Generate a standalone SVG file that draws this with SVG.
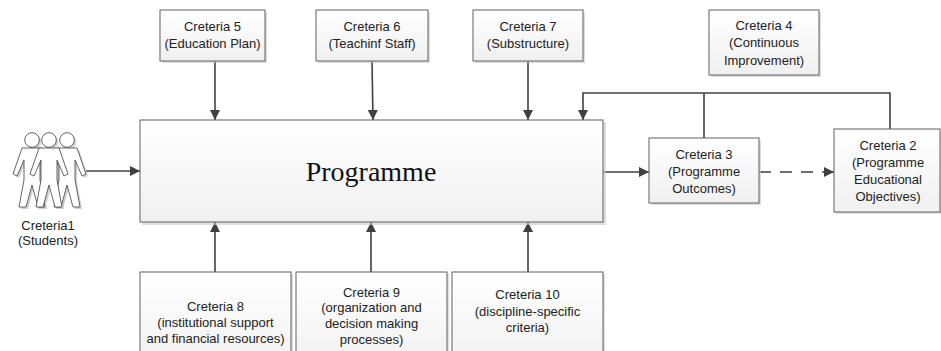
<svg xmlns="http://www.w3.org/2000/svg" width="941" height="351" viewBox="0 0 941 351">
<defs>
<linearGradient id="g" x1="0" y1="0" x2="0" y2="1"><stop offset="0" stop-color="#ffffff"/><stop offset="1" stop-color="#f0f0f0"/></linearGradient>
<marker id="ah" viewBox="0 0 10 10" refX="10" refY="5" markerWidth="10" markerHeight="10" markerUnits="userSpaceOnUse" orient="auto"><path d="M0,0 L10,5 L0,10 Z" fill="#404040"/></marker>
</defs>
<style>
.box{fill:url(#g);stroke:#606060;stroke-width:1}
.sh{fill:#c8c8c8;opacity:0.6}
.t{font-family:"Liberation Sans",Arial,sans-serif;font-size:13px;fill:#222;text-anchor:middle}
.c{fill:none;stroke:#404040;stroke-width:1.6}
.p{fill:#fff;stroke:#555;stroke-width:0.9}
.ps{fill:#d0d0d0}
</style>
<rect width="941" height="351" fill="#fff"/>

<g id="connectors">
<path class="c" d="M215,61 V120" marker-end="url(#ah)"/>
<path class="c" d="M372,61 L373,120" marker-end="url(#ah)"/>
<path class="c" d="M528,61 V120" marker-end="url(#ah)"/>
<path class="c" d="M890,129 V93 H583 V120" marker-end="url(#ah)"/>
<path class="c" d="M704,138 V93"/>
<path class="c" d="M86,171 H140" marker-end="url(#ah)"/>
<path class="c" d="M603,172 H649" marker-end="url(#ah)"/>
<path class="c" d="M759,172 H834" stroke-dasharray="12,9" marker-end="url(#ah)"/>
<path class="c" d="M215,272 V222" marker-end="url(#ah)"/>
<path class="c" d="M371,272 V222" marker-end="url(#ah)"/>
<path class="c" d="M528,272 V222" marker-end="url(#ah)"/>
</g>

<g id="programme">
<rect class="sh" x="142" y="122" width="464" height="103"/>
<rect class="box" x="140" y="120" width="463" height="102"/>
<text x="371" y="181" font-family="'Liberation Serif','Times New Roman',serif" font-size="28" fill="#111" text-anchor="middle">Programme</text>
</g>

<g id="c5">
<rect class="sh" x="162" y="12" width="105" height="51"/>
<rect class="box" x="160" y="10" width="105" height="51"/>
<text class="t" x="212.5" y="31">Creteria 5</text>
<text class="t" x="212.5" y="48">(Education Plan)</text>
</g>

<g id="c6">
<rect class="sh" x="318" y="12" width="112" height="51"/>
<rect class="box" x="316" y="10" width="112" height="51"/>
<text class="t" x="372" y="31">Creteria 6</text>
<text class="t" x="372" y="48">(Teachinf Staff)</text>
</g>

<g id="c7">
<rect class="sh" x="475" y="12" width="110" height="51"/>
<rect class="box" x="473" y="10" width="110" height="51"/>
<text class="t" x="528" y="31">Creteria 7</text>
<text class="t" x="528" y="48">(Substructure)</text>
</g>

<g id="c4">
<rect class="sh" x="711" y="12" width="110" height="65"/>
<rect class="box" x="709" y="10" width="110" height="65"/>
<text class="t" x="764" y="30">Creteria 4</text>
<text class="t" x="764" y="47">(Continuous</text>
<text class="t" x="764" y="65">Improvement)</text>
</g>

<g id="c3">
<rect class="sh" x="651" y="140" width="110" height="65"/>
<rect class="box" x="649" y="138" width="110" height="65"/>
<text class="t" x="704" y="159">Creteria 3</text>
<text class="t" x="704" y="176">(Programme</text>
<text class="t" x="704" y="193">Outcomes)</text>
</g>

<g id="c2">
<rect class="sh" x="836" y="131" width="106" height="83"/>
<rect class="box" x="834" y="129" width="106" height="83"/>
<text class="t" x="888" y="150">Creteria 2</text>
<text class="t" x="888" y="167">(Programme</text>
<text class="t" x="888" y="184">Educational</text>
<text class="t" x="888" y="201">Objectives)</text>
</g>

<g id="c8">
<rect class="sh" x="142" y="274" width="151" height="100"/>
<rect class="box" x="140" y="272" width="151" height="100"/>
<text class="t" x="215.5" y="311">Creteria 8</text>
<text class="t" x="215.5" y="327">(institutional support</text>
<text class="t" x="215.5" y="343">and financial resources)</text>
</g>

<g id="c9">
<rect class="sh" x="298" y="274" width="151" height="100"/>
<rect class="box" x="296" y="272" width="151" height="100"/>
<text class="t" x="371.5" y="297">Creteria 9</text>
<text class="t" x="371.5" y="312">(organization and</text>
<text class="t" x="371.5" y="328">decision making</text>
<text class="t" x="371.5" y="344">processes)</text>
</g>

<g id="c10">
<rect class="sh" x="454" y="274" width="151" height="100"/>
<rect class="box" x="452" y="272" width="151" height="100"/>
<text class="t" x="527.5" y="299">Creteria 10</text>
<text class="t" x="527.5" y="316">(discipline-specific</text>
<text class="t" x="527.5" y="332">criteria)</text>
</g>

<g id="c1">
<g transform="translate(2,2)">
<circle class="ps" cx="32" cy="140" r="7.3"/><circle class="ps" cx="67" cy="140" r="7.3"/><circle class="ps" cx="49" cy="140" r="7.3"/>
<path class="ps" d="M22,148 H42 L51,174 L47,176 L40,160 L40,180 L45,207 L38,207 L32,185 L26,207 L19,207 L24,180 L24,160 L17,176 L13,174 Z"/>
<path class="ps" d="M57,148 H77 L86,174 L82,176 L75,160 L75,180 L80,207 L73,207 L67,185 L61,207 L54,207 L59,180 L59,160 L52,176 L48,174 Z"/>
<path class="ps" d="M39,148 H59 L68,174 L64,176 L57,160 L57,180 L62,207 L55,207 L49,185 L43,207 L36,207 L41,180 L41,160 L34,176 L30,174 Z"/>
</g>
<circle class="p" cx="32" cy="140" r="7.3"/>
<path class="p" d="M22,148 H42 L51,174 L47,176 L40,160 L40,180 L45,207 L38,207 L32,185 L26,207 L19,207 L24,180 L24,160 L17,176 L13,174 Z"/>
<circle class="p" cx="67" cy="140" r="7.3"/>
<path class="p" d="M57,148 H77 L86,174 L82,176 L75,160 L75,180 L80,207 L73,207 L67,185 L61,207 L54,207 L59,180 L59,160 L52,176 L48,174 Z"/>
<circle class="p" cx="49" cy="140" r="7.3"/>
<path class="p" d="M39,148 H59 L68,174 L64,176 L57,160 L57,180 L62,207 L55,207 L49,185 L43,207 L36,207 L41,180 L41,160 L34,176 L30,174 Z"/>
<text class="t" x="48" y="230">Creteria1</text>
<text class="t" x="48" y="245">(Students)</text>
</g>
</svg>
